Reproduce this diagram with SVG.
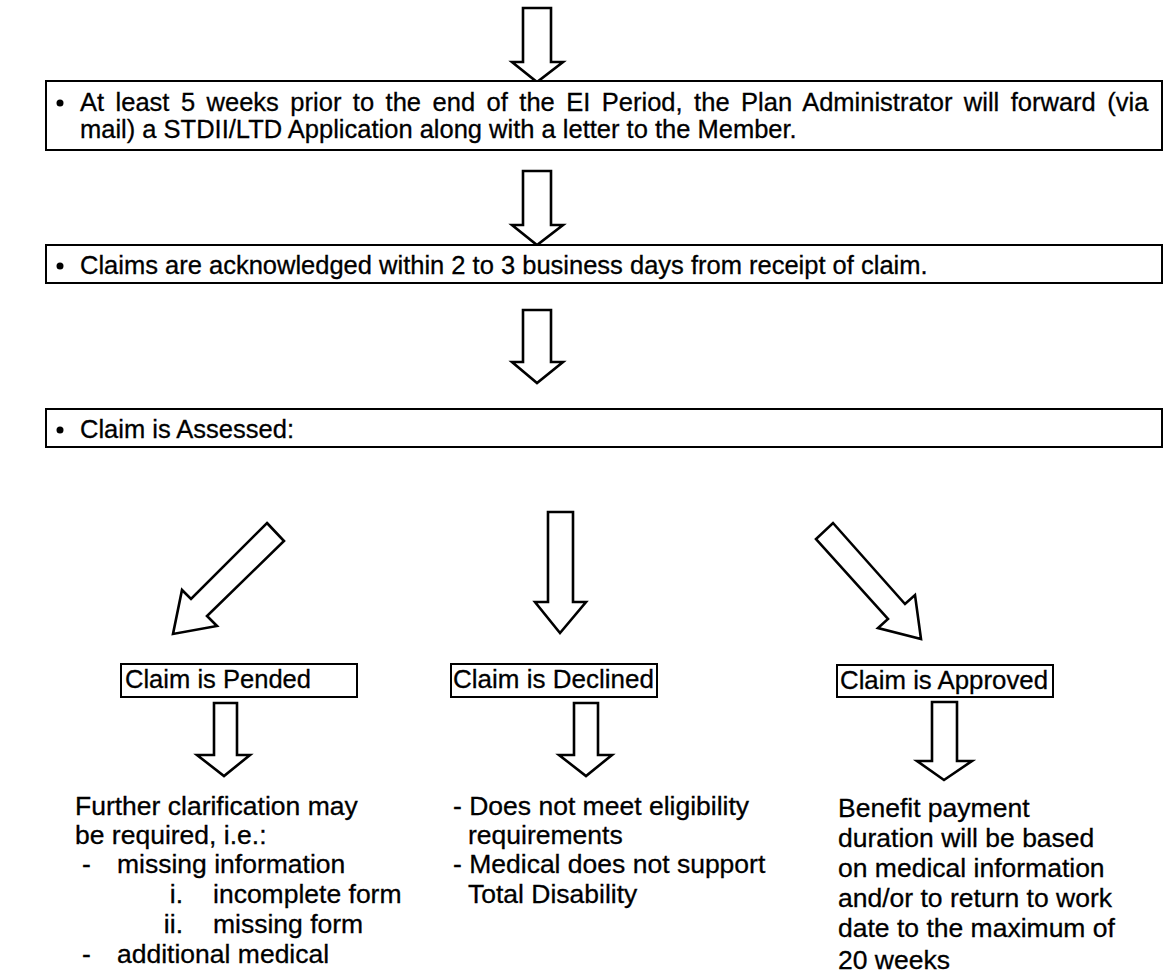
<svg xmlns="http://www.w3.org/2000/svg" width="1168" height="975" viewBox="0 0 1168 975">
<style>
  .box{fill:#fff;stroke:#000;stroke-width:2}
  .arr{fill:#fff;stroke:#000;stroke-width:2.6;stroke-linejoin:miter}
  text{font-family:"Liberation Sans",Arial,Helvetica,sans-serif;fill:#000;stroke:#000;stroke-width:0.3}
  .b{font-size:25.5px}
  .t{font-size:26.5px}
  .l{font-size:26px}
</style>
<rect width="1168" height="975" fill="#fff"/>
<g id="connectors">
  <polygon class="arr" points="523,8 551,8 551,62 563,62 537,82 512,62 523,62"/>
  <polygon class="arr" points="523,171 551,171 551,225 563,225 537,245 512,225 523,225"/>
  <polygon class="arr" points="523,310 551,310 551,362 563,362 537,383 512,362 523,362"/>
  <polygon class="arr" points="267,523 284,541 207,616 217,626 173,634 182,590 191,599"/>
  <polygon class="arr" points="548,512 573,512 573,602 586,602 560,633 535,602 548,602"/>
  <polygon class="arr" points="833,523 905,604 915,595 921,639 878,628 888,619 816,539"/>
  <polygon class="arr" points="214,703 237,703 237,755 250,755 224,776 197,755 214,755"/>
  <polygon class="arr" points="574,703 598,703 598,755 612,755 586,776 559,755 574,755"/>
  <polygon class="arr" points="932,702 957,702 957,761 972,761 944,780 917,761 932,761"/>
</g>
<g id="box1">
  <rect class="box" x="46" y="81" width="1116" height="69"/>
  <circle cx="60" cy="103" r="3.5"/>
  <text class="b" x="80" y="111" word-spacing="4.4">At least 5 weeks prior to the end of the EI Period, the Plan Administrator will forward (via</text>
  <text class="b" x="80" y="138">mail) a STDII/LTD Application along with a letter to the Member.</text>
</g>
<g id="box2">
  <rect class="box" x="46" y="245" width="1116" height="38"/>
  <circle cx="60" cy="266" r="3.5"/>
  <text class="b" x="80" y="274">Claims are acknowledged within 2 to 3 business days from receipt of claim.</text>
</g>
<g id="box3">
  <rect class="box" x="46" y="409" width="1116" height="38"/>
  <circle cx="60" cy="430" r="3.5"/>
  <text class="b" x="80" y="438">Claim is Assessed:</text>
</g>
<g id="pended">
  <rect class="box" x="121" y="664" width="236" height="33"/>
  <text class="l" x="125" y="688" textLength="186" lengthAdjust="spacingAndGlyphs">Claim is Pended</text>
</g>
<g id="declined">
  <rect class="box" x="451" y="664" width="206" height="33"/>
  <text class="l" x="453" y="688">Claim is Declined</text>
</g>
<g id="approved">
  <rect class="box" x="837" y="665" width="216" height="32"/>
  <text class="l" x="840" y="689" textLength="208" lengthAdjust="spacingAndGlyphs">Claim is Approved</text>
</g>
<g id="pended-detail">
  <text class="t" x="75" y="815">Further clarification may</text>
  <text class="t" x="75" y="844">be required, i.e.:</text>
  <text class="t" x="82" y="873">-</text>
  <text class="t" x="117" y="873">missing information</text>
  <text class="t" x="183" y="903" text-anchor="end">i.</text>
  <text class="t" x="213" y="903">incomplete form</text>
  <text class="t" x="183" y="933" text-anchor="end">ii.</text>
  <text class="t" x="213" y="933">missing form</text>
  <text class="t" x="82" y="963">-</text>
  <text class="t" x="117" y="963">additional medical</text>
</g>
<g id="declined-detail">
  <text class="t" x="453" y="815">- Does not meet eligibility</text>
  <text class="t" x="468" y="844">requirements</text>
  <text class="t" x="453" y="873">- Medical does not support</text>
  <text class="t" x="468" y="903">Total Disability</text>
</g>
<g id="approved-detail">
  <text class="t" x="838" y="817">Benefit payment</text>
  <text class="t" x="838" y="847">duration will be based</text>
  <text class="t" x="838" y="877">on medical information</text>
  <text class="t" x="838" y="907">and/or to return to work</text>
  <text class="t" x="838" y="937">date to the maximum of</text>
  <text class="t" x="838" y="969">20 weeks</text>
</g>
</svg>
